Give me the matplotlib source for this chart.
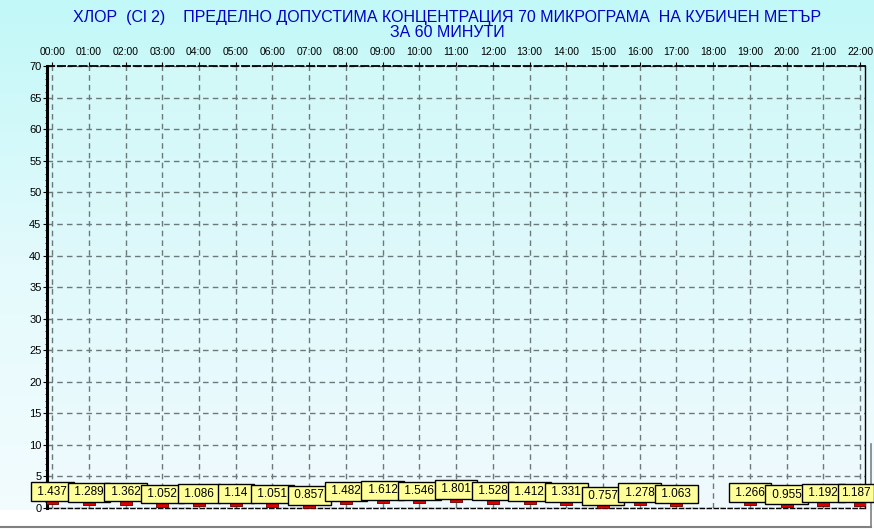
import numpy as np
import matplotlib
matplotlib.use('Agg')
import matplotlib.pyplot as plt
from matplotlib.colors import LinearSegmentedColormap

# часове и стойности (18:00 липсва)
hours = ['00:00', '01:00', '02:00', '03:00', '04:00', '05:00', '06:00', '07:00',
         '08:00', '09:00', '10:00', '11:00', '12:00', '13:00', '14:00', '15:00',
         '16:00', '17:00', '18:00', '19:00', '20:00', '21:00', '22:00']
values = [1.437, 1.289, 1.362, 1.052, 1.086, 1.14, 1.051, 0.857,
          1.482, 1.612, 1.546, 1.801, 1.528, 1.412, 1.331, 0.757,
          1.278, 1.063, None, 1.266, 0.955, 1.192, 1.187]
labels = ['1.437', '1.289', '1.362', '1.052', '1.086', '1.14', '1.051', '0.857',
          '1.482', '1.612', '1.546', '1.801', '1.528', '1.412', '1.331', '0.757',
          '1.278', '1.063', '', '1.266', '0.955', '1.192', '1.187']
y_ticks = [0, 5, 10, 15, 20, 25, 30, 35, 40, 45, 50, 55, 60, 65, 70]
title = ('ХЛОР  (Cl 2)    ПРЕДЕЛНО ДОПУСТИМА КОНЦЕНТРАЦИЯ 70 МИКРОГРАМА  НА КУБИЧЕН МЕТЪР\n'
         'ЗА 60 МИНУТИ')

plt.rcParams['font.family'] = ['Liberation Sans', 'DejaVu Sans']

fig = plt.figure(figsize=(8.74, 5.29), dpi=100)

# фон на фигурата - преливане от светло синьо към бяло
bg = fig.add_axes([0, 0, 1, 1], zorder=-10)
bg_cmap = LinearSegmentedColormap.from_list('bg', ['#c2f8f8', '#e4fafc', '#f4fcff'])
grad = np.linspace(0, 1, 256).reshape(-1, 1)
bg.imshow(grad, aspect='auto', cmap=bg_cmap, extent=[0, 1, 0, 1])
bg.axvspan(0, 1, 0, 0.035, color='white', zorder=2)
bg.plot([0, 0.9966], [0.004, 0.004], color='#808080', lw=1.5, zorder=3)
bg.plot([0.9966, 0.9966], [0.004, 0.16], color='#808080', lw=1.2, zorder=3)
bg.set_xlim(0, 1)
bg.set_ylim(0, 1)
bg.axis('off')

ax = fig.add_axes([0.0538, 0.0397, 0.9357, 0.835])
x = np.arange(len(hours))
ax.set_xlim(-0.14, 22.13)
ax.set_ylim(0, 70)

plot_cmap = LinearSegmentedColormap.from_list('pl', ['#d2f8f8', '#f0fafe'])
ax.imshow(grad, aspect='auto', cmap=plot_cmap, extent=[-0.14, 22.13, 0, 70], zorder=0)

ax.grid(True, color='#6a7a7a', linestyle=(0, (4, 3)), linewidth=1, zorder=1)
ax.set_axisbelow(True)

# линия и маркери
xv = [i for i, v in enumerate(values) if v is not None]
yv = [v for v in values if v is not None]
ax.plot(xv[:18], yv[:18], color='#d00000', lw=1, zorder=3)
ax.plot(xv[18:], yv[18:], color='#d00000', lw=1, zorder=3)
rect = [(-1, -0.5), (1, -0.5), (1, 0.5), (-1, 0.5), (-1, -0.5)]
ax.plot(xv, [v - 0.35 for v in yv], linestyle='none', marker=rect, markersize=9,
        markerfacecolor='#e00000', markeredgecolor='#600000', markeredgewidth=0.6, zorder=4)

for i, v in enumerate(values):
    if v is None:
        continue
    txt = ' ' + labels[i] + ' '
    dx = 0
    if i == len(values) - 1:
        # последният етикет е притиснат до десния ръб
        txt = labels[i]
        dx = -3
    ax.annotate(txt, (i, v), xytext=(dx, 1), textcoords='offset points',
                ha='center', va='bottom', fontsize=8.5, color='black', zorder=6,
                bbox=dict(boxstyle='square,pad=0.28', facecolor='#ffff99',
                          edgecolor='black', linewidth=1))

ax.set_xticks(x)
ax.set_xticklabels(hours, fontsize=7.5)
ax.xaxis.tick_top()
ax.tick_params(axis='x', length=3, pad=4, colors='black', width=0.8)
ax.set_yticks(y_ticks)
ax.set_yticklabels([str(t) for t in y_ticks], fontsize=8)
ax.set_yticks(np.arange(0, 71, 1), minor=True)
ax.tick_params(axis='y', which='major', length=3, pad=1, width=0.8)
ax.tick_params(axis='y', which='minor', length=1.5, width=0.6)

ax.spines['left'].set_linewidth(2.2)
ax.spines['right'].set_linewidth(1)
ax.spines['top'].set_linestyle((0, (4, 2)))
ax.spines['top'].set_linewidth(1.3)
ax.spines['bottom'].set_linestyle((0, (3, 2)))
ax.spines['bottom'].set_linewidth(1)

fig.text(0.512, 0.981, title, ha='center', va='top', fontsize=11.5,
         color='#0000c8', linespacing=1.0)

fig.savefig('out.png', dpi=100)
